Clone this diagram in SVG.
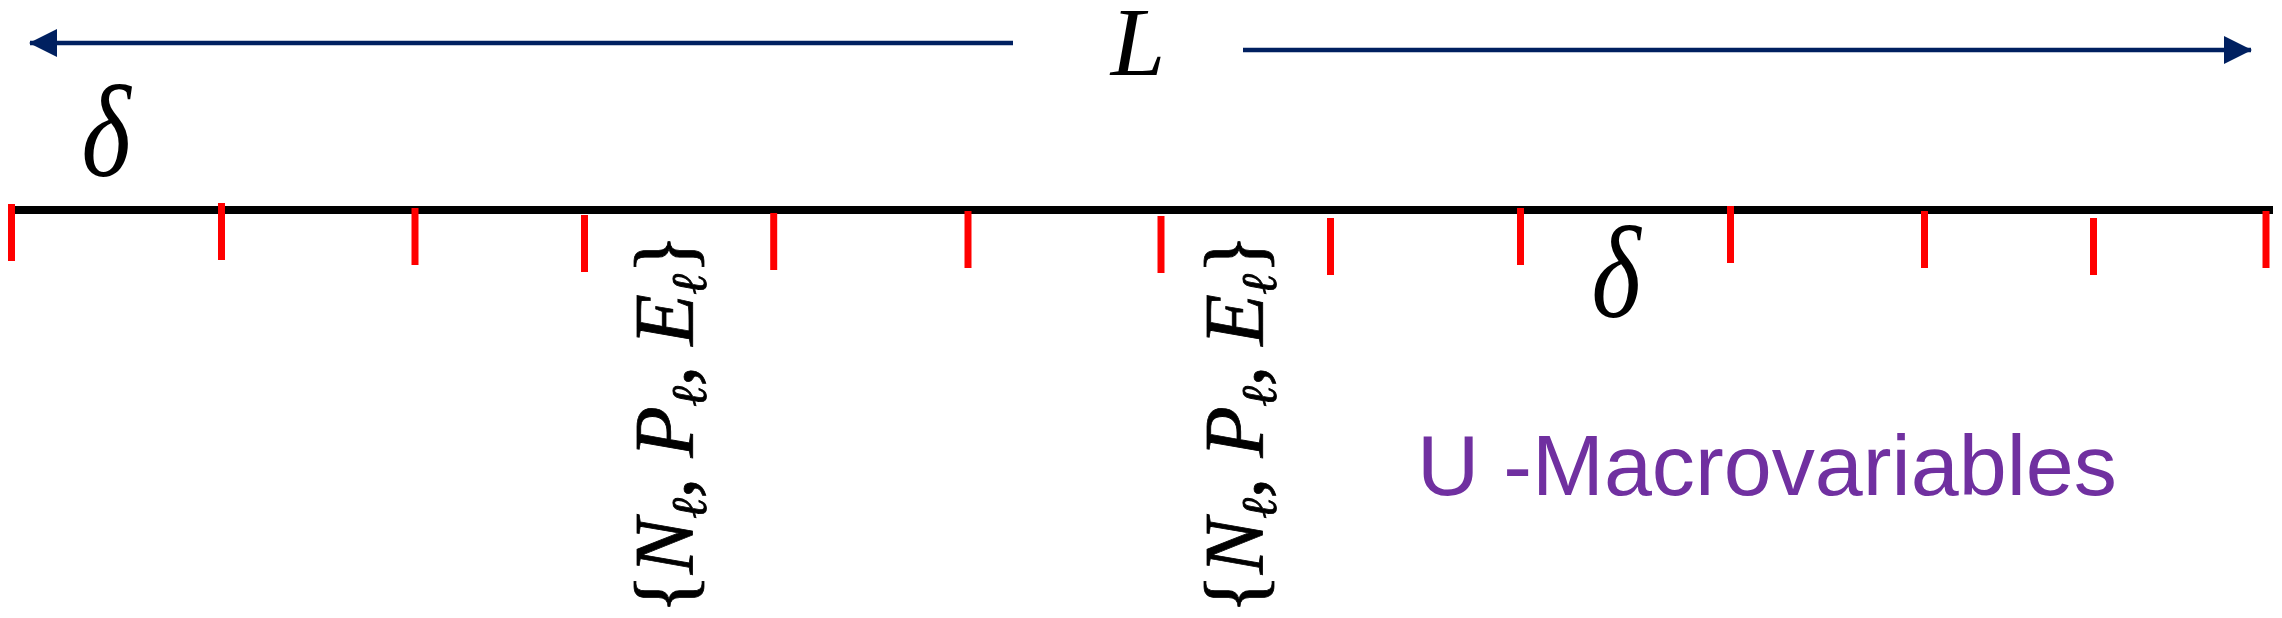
<svg xmlns="http://www.w3.org/2000/svg" width="2282" height="618" viewBox="0 0 2282 618">
<style>
.math{font-family:"Liberation Serif","Times New Roman",serif;font-style:italic;fill:#000}
.lab{stroke:#000;stroke-width:0.8}
.up{font-style:normal}
.tick{stroke:#FF0000;stroke-width:7}
.dim{stroke:#002060;stroke-width:4.5;fill:none}
.axis{stroke:#000;stroke-width:8}
.purple{font-family:"Comic Sans MS","Liberation Sans","Open Sans",sans-serif;fill:#7030A0;font-size:86px}
</style>
<defs>
<marker id="ah" viewBox="0 0 28 28" refX="27" refY="14" markerWidth="28" markerHeight="28" markerUnits="userSpaceOnUse" orient="auto-start-reverse">
<path d="M0,0 L28,14 L0,28 Z" fill="#002060"/>
</marker>
</defs>
<g id="connectors">
<line class="dim" x1="1013" y1="43" x2="30" y2="43" marker-end="url(#ah)"/>
<line class="dim" x1="1243" y1="50" x2="2251" y2="50" marker-end="url(#ah)"/>
</g>
<g id="axis">
<line class="axis" x1="12" y1="210" x2="2273" y2="210"/>
</g>
<g id="ticks">
<line class="tick" x1="11.5" y1="204" x2="11.5" y2="261"/>
<line class="tick" x1="221.5" y1="203" x2="221.5" y2="260"/>
<line class="tick" x1="415" y1="208" x2="415" y2="265"/>
<line class="tick" x1="584.5" y1="215" x2="584.5" y2="272"/>
<line class="tick" x1="773.7" y1="213" x2="773.7" y2="270"/>
<line class="tick" x1="968" y1="211" x2="968" y2="268"/>
<line class="tick" x1="1161" y1="216" x2="1161" y2="273"/>
<line class="tick" x1="1330.5" y1="218" x2="1330.5" y2="275"/>
<line class="tick" x1="1520.5" y1="208" x2="1520.5" y2="265"/>
<line class="tick" x1="1730.5" y1="206" x2="1730.5" y2="263"/>
<line class="tick" x1="1924.5" y1="211" x2="1924.5" y2="268"/>
<line class="tick" x1="2093.5" y1="218" x2="2093.5" y2="275"/>
<line class="tick" x1="2266" y1="211" x2="2266" y2="268"/>
</g>
<g id="label-L">
<text class="math" x="1138" y="75" font-size="98" text-anchor="middle">L</text>
</g>
<g id="label-delta-left">
<text class="math" font-size="132" text-anchor="middle" transform="translate(106,176) scale(0.8,1)">δ</text>
</g>
<g id="label-delta-right">
<text class="math" font-size="132" text-anchor="middle" transform="translate(1616,317) scale(0.8,1)">δ</text>
</g>
<g id="label-macro-1">
<text class="math lab" font-size="84" transform="translate(693,614) rotate(-90)" textLength="380" lengthAdjust="spacing"><tspan class="up">{</tspan>N<tspan font-size="50" dy="13">ℓ</tspan><tspan class="up" dy="-13">, </tspan>P<tspan font-size="50" dy="13">ℓ</tspan><tspan class="up" dy="-13">, </tspan>E<tspan font-size="50" dy="13">ℓ</tspan><tspan class="up" dy="-13">}</tspan></text>
</g>
<g id="label-macro-2">
<text class="math lab" font-size="84" transform="translate(1263,614) rotate(-90)" textLength="380" lengthAdjust="spacing"><tspan class="up">{</tspan>N<tspan font-size="50" dy="13">ℓ</tspan><tspan class="up" dy="-13">, </tspan>P<tspan font-size="50" dy="13">ℓ</tspan><tspan class="up" dy="-13">, </tspan>E<tspan font-size="50" dy="13">ℓ</tspan><tspan class="up" dy="-13">}</tspan></text>
</g>
<g id="label-u-macrovariables">
<text class="purple" x="1417" y="495" textLength="700" lengthAdjust="spacingAndGlyphs">U -Macrovariables</text>
</g>
</svg>
